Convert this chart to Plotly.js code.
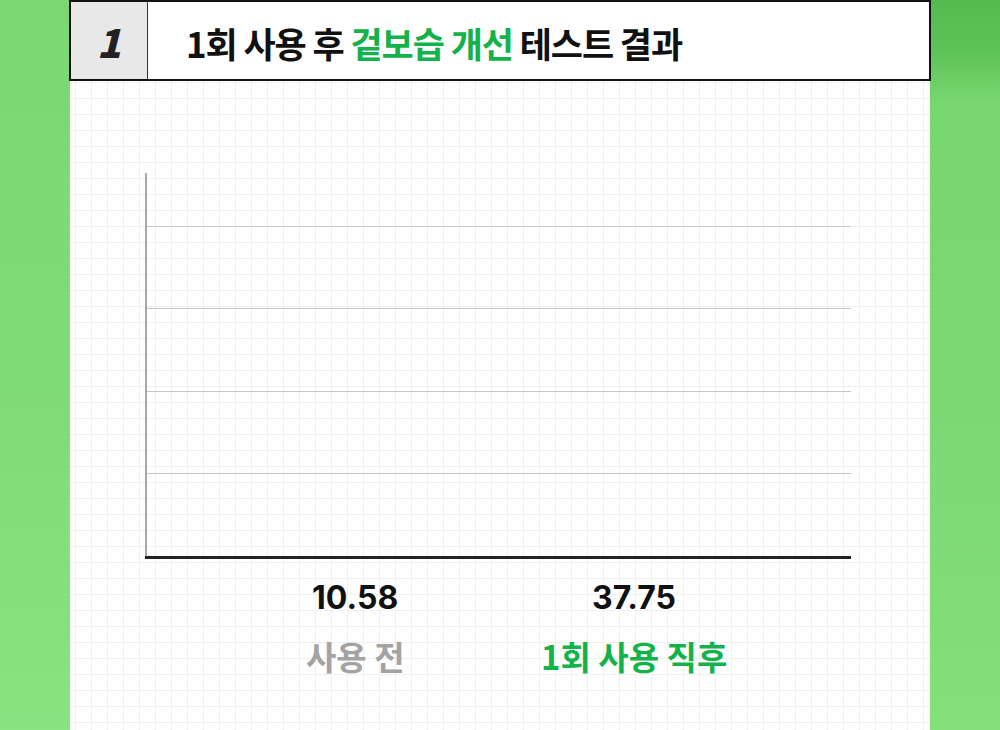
<!DOCTYPE html>
<html>
<head>
<meta charset="utf-8">
<script src="https://cdn.plot.ly/plotly-3.0.1.min.js"></script>
<style>
  html, body { margin: 0; padding: 0; }
  body {
    width: 1000px; height: 730px; position: relative; overflow: hidden;
    background: linear-gradient(180deg, #7ad872 0%, #7fdb75 50%, #8be280 100%);
    font-family: "Noto Sans CJK KR", sans-serif;
  }
  #rside {
    position: absolute; left: 930px; top: 0; width: 70px; height: 730px;
    background: linear-gradient(180deg, #55bb50 0px, #5dc257 50px, #79d771 105px, #7bd873 400px, #85df7b 730px);
  }
  #panel {
    position: absolute; left: 70px; top: 0; width: 860px; height: 730px;
    background-color: #fff;
    background-image:
      linear-gradient(#f0f0f0 1px, transparent 1px),
      linear-gradient(90deg, #f0f0f0 1px, transparent 1px);
    background-size: 16px 16px;
    background-position: 5px 2px;
  }
  #head {
    position: absolute; left: 69px; top: 0; width: 862px; height: 81px;
    box-sizing: border-box; border: 2.5px solid #111; background: #fff;
  }
  #num {
    position: absolute; left: 0; top: 0; width: 76px; height: 100%;
    background: #e8e8e8; border-right: 1.5px solid #333;
    font: italic 800 40px "Noto Sans CJK KR", sans-serif; color: #222;
    display: flex; align-items: center; justify-content: center;
  }
  #ttl {
    position: absolute; left: 115px; top: 0; height: 100%;
    display: flex; align-items: center;
    font-size: 35px; font-weight: 700; color: #111; letter-spacing: -1.1px;
    padding-top: 4px; box-sizing: border-box; white-space: nowrap;
  }
  #ttl .g { color: #13b24a; }
  #chart { position: absolute; left: 0; top: 0; width: 1000px; height: 730px; }
</style>
</head>
<body>
<div id="rside"></div>
<div id="panel"></div>
<div id="head">
  <div id="num">1</div>
  <div id="ttl">1회 사용 후&nbsp;<span class="g">겉보습 개선</span>&nbsp;테스트 결과</div>
</div>
<div id="chart"></div>
<script>
  const categories = ["사용 전", "1회 사용 직후"];
  const values = [10.58, 37.75];
  const valueLabels = ["10.58", "37.75"];
  const labelColors = ["#a3a3a3", "#13b24a"];

  // bars are not visible in the source picture (still hidden), keep them transparent
  const trace = {
    type: "bar",
    x: [0, 1],
    y: values,
    width: 0.5,
    opacity: 0,
    hoverinfo: "skip",
    marker: { color: labelColors }
  };

  let annotations = [];
  for (let i = 0; i < categories.length; i++) {
    annotations.push({
      x: i, xref: "x", y: 0, yref: "paper",
      yanchor: "middle", yshift: -41, showarrow: false,
      text: valueLabels[i],
      font: { family: "Inter, Roboto, sans-serif", size: 32, color: "#111", weight: 700 }
    });
    annotations.push({
      x: i, xref: "x", y: 0, yref: "paper",
      yanchor: "middle", yshift: -100, showarrow: false,
      text: categories[i],
      font: { family: "Noto Sans CJK KR", size: 33, color: labelColors[i], weight: 700 }
    });
  }

  const layout = {
    width: 1000, height: 730,
    margin: { l: 147, r: 149, t: 173, b: 174 },
    paper_bgcolor: "rgba(0,0,0,0)",
    plot_bgcolor: "rgba(0,0,0,0)",
    showlegend: false,
    font: { family: "Noto Sans CJK KR" },
    xaxis: {
      range: [-0.746, 1.778],
      showticklabels: false, ticks: "",
      showgrid: false, zeroline: false,
      showline: true, linecolor: "#222", linewidth: 2.5
    },
    yaxis: {
      range: [0, 46.5], dtick: 10,
      showticklabels: false, ticks: "",
      showgrid: true, gridcolor: "#c6c6c6", gridwidth: 1,
      zeroline: false,
      showline: true, linecolor: "#a8a8a8", linewidth: 2
    },
    annotations: annotations
  };

  Plotly.newPlot("chart", [trace], layout, { staticPlot: true, displayModeBar: false });
</script>
</body>
</html>
